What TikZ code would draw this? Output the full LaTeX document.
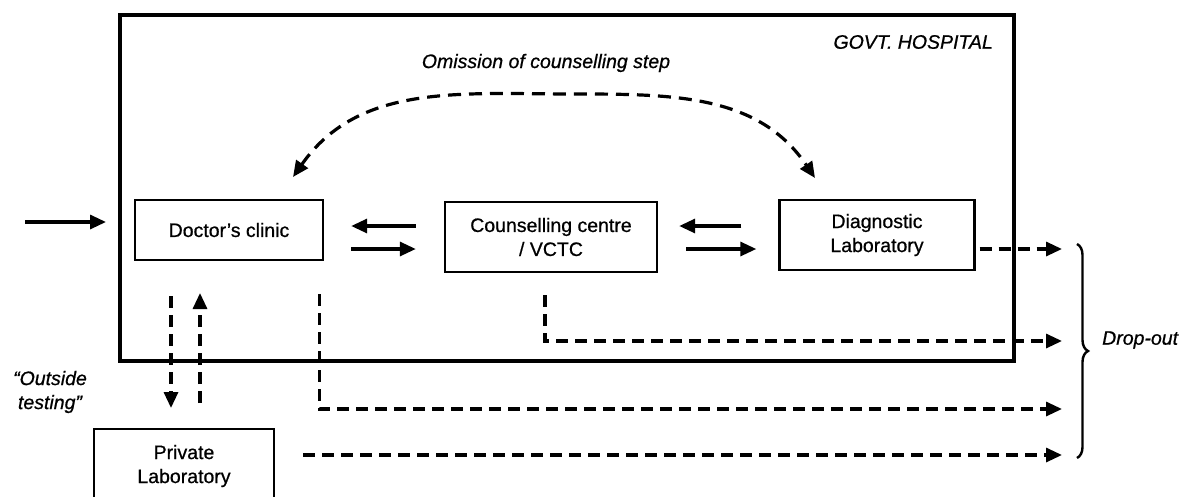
\documentclass[tikz,border=0pt]{standalone}
\usepackage{fontspec}
\setmainfont{Liberation Sans}[FakeBold=0.7]
\usetikzlibrary{arrows.meta,calc,decorations.pathreplacing}

\tikzset{
  box/.style={draw, line width=2.4pt, inner sep=0pt, align=center,
              font=\fontsize{19.5}{24}\selectfont},
  label/.style={font=\fontsize{19.5}{24}\selectfont\itshape, inner sep=0pt, align=center},
  tip/.style={-{Triangle[length=16pt,width=14pt]}},
  arr/.style={line width=3.2pt, tip},
  darr/.style={line width=3.2pt, dash pattern=on 12pt off 7pt, tip},
}

\begin{document}
\begin{tikzpicture}[x=1pt, y=-1pt]
\useasboundingbox (0,0) rectangle (1185,496);
\clip (0,0) rectangle (1185,496);

% hospital frame
\node[draw, line width=4.5pt, minimum width=894pt, minimum height=346pt, inner sep=0pt]
  (hosp) at (567,188) {};
\node[label, anchor=east] (hosptitle) at (993,42) {GOVT. HOSPITAL};
\node[label] (omit) at (546,63) {Omission of counselling step};

% units inside the hospital
\node[box, minimum width=188pt, minimum height=60pt] (doc) at (229,230) {Doctor's clinic};
\node[box, minimum width=212pt, minimum height=70pt] (couns) at (551,237)
  {Counselling centre\\/ VCTC};
\node[box, minimum width=195pt, minimum height=70pt] (diag) at (877,235)
  {Diagnostic\\Laboratory};

% outside laboratory
\node[box, minimum width=180pt, minimum height=74pt] (priv) at (184,466)
  {Private\\Laboratory};
\node[label] (outside) at (50,392) {``Outside\\testing''};

% reference levels
\coordinate (upper) at (0,226);
\coordinate (lower) at (0,249);
\coordinate (entry) at (25,222);
\coordinate (entryend) at (106,222);
\coordinate (dropx) at (1062,0);

% patient enters
\draw[arr] (entry) -- (entryend);

% two-way flows between units
\draw[arr, shorten <=28pt, shorten >=27pt] (couns.west |- upper) -- (doc.east |- upper);
\draw[arr, shorten <=27pt, shorten >=28pt] (doc.east |- lower) -- (couns.west |- lower);
\draw[arr, shorten <=37pt, shorten >=21pt] (diag.west |- upper) -- (couns.east |- upper);
\draw[arr, shorten <=28pt, shorten >=22pt] (couns.east |- lower) -- (diag.west |- lower);

% skipping the counselling step
\coordinate (cvL) at (293,177);
\coordinate (cvTop) at (575,94);
\coordinate (cvR) at (815,178);
\draw[line width=3.2pt, dash pattern=on 13pt off 8pt,
      {Triangle[length=16pt,width=14pt]}-{Triangle[length=16pt,width=14pt]}]
  (cvL) .. controls (359,83) and (460,94) .. (cvTop)
        .. controls (675,94) and (759,95) .. (cvR);

% outside testing
\coordinate (downS) at (171,296);
\coordinate (downE) at (171,408);
\coordinate (upS) at (200,403);
\coordinate (upE) at (200,293);
\draw[darr] (downS) -- (downE);
\draw[darr] (upS) -- (upE);

% drop-out routes
\draw[darr] ([xshift=4pt]diag.east |- lower) -- (dropx |- lower);
\coordinate (cdrop) at ($(couns.south)+(-6,22)$);
\coordinate (ccorner) at (cdrop |- 0,341);
\draw[darr] (cdrop) -- (ccorner) -- (dropx |- ccorner);
\coordinate (ddrop) at ($(doc.south east)+(-5,33)$);
\coordinate (dcorner) at (ddrop |- 0,409);
\draw[darr] (ddrop) -- (dcorner) -- (dropx |- dcorner);
\coordinate (pdrop) at ($(priv.east |- 0,455)+(28,0)$);
\draw[darr] (pdrop) -- (dropx |- pdrop);

% grouping brace
\draw[line width=2.4pt, decorate, decoration={brace, amplitude=11pt}]
  (1077,244) -- (1077,458) coordinate[midway] (bracemid);
\node[label, anchor=west] (dropout) at (1102,340) {Drop-out};
\end{tikzpicture}
\end{document}
